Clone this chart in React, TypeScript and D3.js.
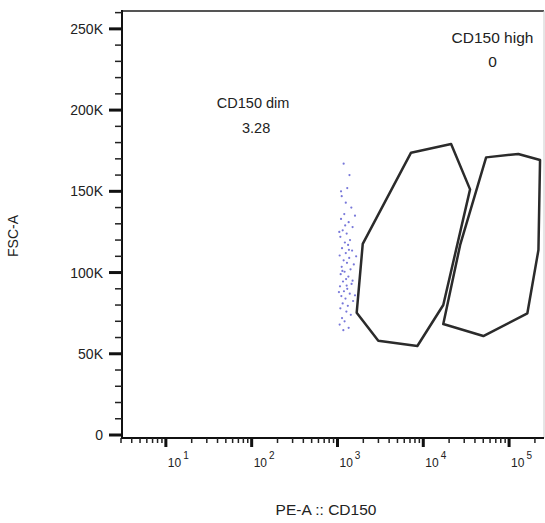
import * as d3 from 'd3';

const W = 545;
const H = 523;

// x axis: PE-A :: CD150 (log), y axis: FSC-A (linear)
const xMajorTicks = [10, 100, 1000, 10000, 100000];
const xTickExponents = ['1', '2', '3', '4', '5'];
const yMajorTicks = [0, 50000, 100000, 150000, 200000, 250000];
const yTickLabels = ['0', '50K', '100K', '150K', '200K', '250K'];

// gate polygons, [CD150, FSC-A]
const dimGate: [number, number][] = [
  [7200, 173800],
  [21100, 179100],
  [35100, 151200],
  [17100, 80000],
  [8530, 54800],
  [2990, 58000],
  [1675, 75300],
  [1970, 117600],
];
const highGate: [number, number][] = [
  [54000, 170900],
  [128000, 173000],
  [229500, 169300],
  [219800, 113900],
  [163300, 74900],
  [50100, 60900],
  [17100, 68300],
  [26900, 117000],
];

const gateLabels = [
  { name: 'CD150 dim', value: '3.28', at: [104, 201000] as [number, number] },
  { name: 'CD150 high', value: '0', at: [64000, 241000] as [number, number] },
];

// events, [CD150, FSC-A]
const events: [number, number][] = [
  [1180, 167000], [1380, 160000], [1300, 152000], [1120, 147000], [1250, 143000],
  [1450, 140000], [1200, 136000], [1100, 133000], [1350, 131000], [1500, 128000],
  [1150, 126000], [1280, 124000], [1080, 122000], [1400, 120000], [1220, 118500],
  [1330, 117000], [1130, 115000], [1480, 113500], [1250, 112000], [1060, 110500],
  [1370, 109000], [1180, 107500], [1290, 106000], [1550, 105000], [1120, 103500],
  [1420, 102000], [1210, 100500], [1090, 99000], [1340, 97500], [1260, 96000],
  [1160, 94500], [1460, 93000], [1070, 91500], [1300, 90000], [1190, 88500],
  [1390, 87000], [1110, 85500], [1240, 84000], [1520, 82500], [1150, 81000],
  [1320, 79500], [1080, 78000], [1270, 76000], [1430, 74000], [1130, 72000],
  [1210, 70000], [1060, 68000], [1350, 66000], [1170, 64500], [1100, 150000],
  [1600, 135000], [1050, 125000], [1650, 110000], [1500, 95000], [1040, 88000],
  [1600, 86000], [1230, 129000], [1360, 114000], [1140, 101000], [1280, 92000],
];

const font = "'Liberation Sans', Arial, sans-serif";

export default function App() {
  const left = 122;
  const right = 544;
  const top = 11;
  const axisY = 438;

  const x = d3.scaleLog().domain([3, 262144]).range([121, 545]);
  const y = d3.scaleLinear().domain([0, 261000]).range([435, 11]);

  const xMinor: number[] = [];
  for (let e = 0; e <= 5; e++) {
    for (let k = 2; k <= 9; k++) {
      const v = k * Math.pow(10, e);
      if (v >= 3 && v <= 262144) xMinor.push(v);
    }
  }
  const yMinor = d3.range(0, 261000, 10000).filter((v) => v % 50000 !== 0);

  const gatePath = (pts: [number, number][]) =>
    d3.line<[number, number]>()
      .x((d) => x(d[0]))
      .y((d) => y(d[1]))
      .curve(d3.curveLinearClosed)(pts) || '';

  return (
    <svg width={W} height={H} style={{ position: 'absolute', left: 0, top: 0, background: '#fff' }}>
      <rect x={0} y={0} width={W} height={H} fill="#fff" />

      {/* frame */}
      <line x1={left} x2={right} y1={top} y2={top} stroke="#555" strokeWidth={2} />
      <line x1={right} x2={right} y1={top} y2={axisY} stroke="#ccc" strokeWidth={1} />

      {/* events */}
      {events.map((d, i) => (
        <circle key={i} cx={x(d[0])} cy={y(d[1])} r={1.1} fill="#5555d0" opacity={0.8} />
      ))}

      {/* gates */}
      <path d={gatePath(dimGate)} fill="none" stroke="#2b2b2b" strokeWidth={2.5} strokeLinejoin="round" />
      <path d={gatePath(highGate)} fill="none" stroke="#2b2b2b" strokeWidth={2.5} strokeLinejoin="round" />

      {gateLabels.map((g, i) => (
        <text
          key={g.name}
          x={x(g.at[0])}
          y={y(g.at[1])}
          textAnchor="middle"
          fontFamily={font}
          fontSize={i === 0 ? 14.5 : 15.5}
          fill="#222"
        >
          <tspan x={x(g.at[0])}>{g.name}</tspan>
          <tspan x={x(g.at[0]) + (i === 0 ? 3 : 0)} dy={i === 0 ? 25 : 24}>{g.value}</tspan>
        </text>
      ))}

      {/* y axis */}
      <line x1={left} x2={left} y1={top - 1} y2={axisY + 1} stroke="#111" strokeWidth={2} />
      {yMinor.map((v) => (
        <line key={v} x1={left - 7} x2={left} y1={y(v)} y2={y(v)} stroke="#222" strokeWidth={1.5} />
      ))}
      {yMajorTicks.map((v, i) => (
        <g key={v}>
          <line x1={left - 13} x2={left} y1={y(v)} y2={y(v)} stroke="#111" strokeWidth={3} />
          <text
            x={103}
            y={y(v) + 5}
            textAnchor="end"
            fontFamily={font}
            fontSize={14}
            fill="#222"
          >
            {yTickLabels[i]}
          </text>
        </g>
      ))}

      {/* x axis */}
      <line x1={left - 1} x2={right} y1={axisY} y2={axisY} stroke="#111" strokeWidth={2} />
      {xMinor.map((v) => (
        <line key={v} x1={x(v)} x2={x(v)} y1={axisY} y2={axisY + 5} stroke="#222" strokeWidth={1.5} />
      ))}
      {xMajorTicks.map((v, i) => (
        <g key={v}>
          <line x1={x(v)} x2={x(v)} y1={axisY} y2={axisY + 9} stroke="#111" strokeWidth={3} />
          <text x={x(v) + 2} y={467} fontFamily={font} fontSize={12} fill="#222">
            10
            <tspan dx={2} dy={-8} fontSize={10}>{xTickExponents[i]}</tspan>
          </text>
        </g>
      ))}

      {/* axis titles */}
      <text x={326} y={515} textAnchor="middle" fontFamily={font} fontSize={15.5} fill="#222">
        PE-A :: CD150
      </text>
      <text
        transform="translate(18,236) rotate(-90)"
        textAnchor="middle"
        fontFamily={font}
        fontSize={14}
        fill="#222"
      >
        FSC-A
      </text>
    </svg>
  );
}
